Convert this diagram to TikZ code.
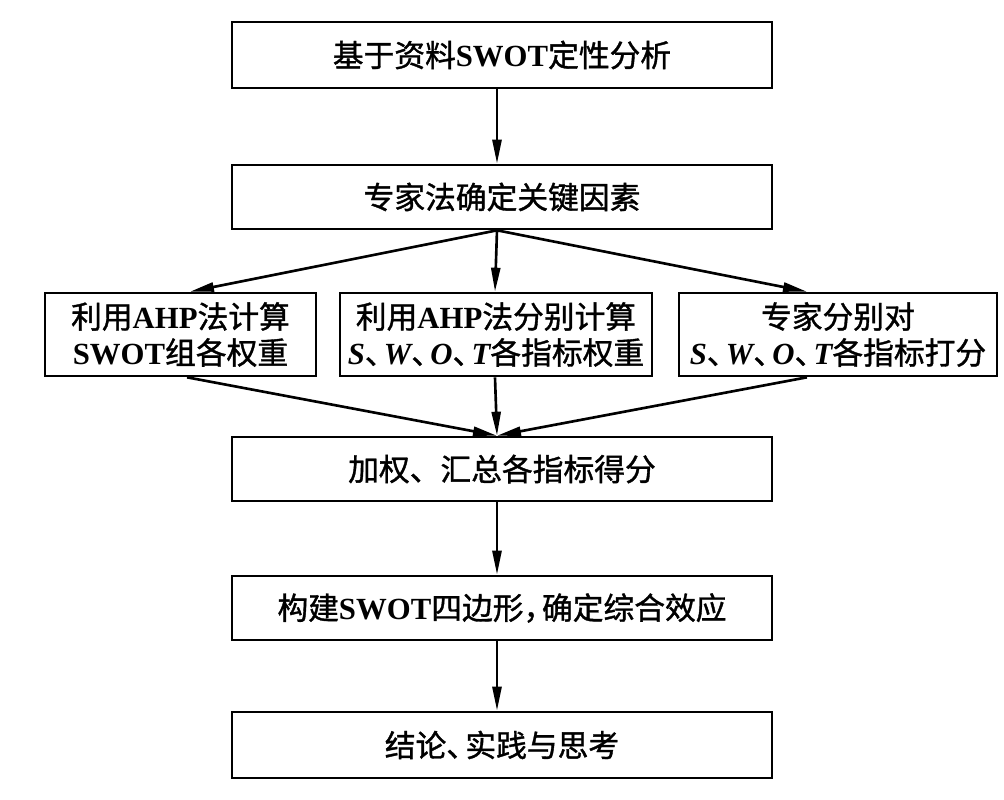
\documentclass[tikz,border=0pt]{standalone}
\usepackage{fontspec}
\setmainfont{Noto Sans CJK SC}[FakeBold=1.2]
\newfontfamily\latfont{Liberation Serif}
\newcommand{\en}[1]{{\latfont\bfseries #1}}
\newcommand{\ei}[1]{{\latfont\bfseries\itshape #1}}
\newcommand{\dun}{\makebox[0.62em][l]{、}}
\newcommand{\dou}{\makebox[0.6em][l]{，}}
\usetikzlibrary{arrows.meta}
\tikzset{
  box/.style={draw, line width=1.5pt, align=center, inner sep=0pt,
    font=\fontsize{17.5}{20.5}\selectfont},
  arr/.style={line width=1.5pt, -{Triangle[length=0.48cm,width=0.18cm]}}
}

\begin{document}
\begin{tikzpicture}
            \useasboundingbox (0,0) rectangle (20.08,-16);
            % main column
            \node[box, minimum width=10.8cm, minimum height=1.32cm] (qual) at (10.04,-1.1) {基于资料\en{SWOT}定性分析};
            \node[box, minimum width=10.8cm, minimum height=1.28cm] (key) at (10.04,-3.94) {专家法确定关键因素};
            % three branches
            \node[box, minimum width=5.42cm, minimum height=1.66cm] (grp) at (3.61,-6.69) {利用\en{AHP}法计算\\\en{SWOT}组各权重};
            \node[box, minimum width=6.24cm, minimum height=1.66cm] (ind) at (9.92,-6.69) {利用\en{AHP}法分别计算\\\ei{S}\dun\ei{W}\dun\ei{O}\dun\ei{T}各指标权重};
            \node[box, minimum width=6.36cm, minimum height=1.66cm] (score) at (16.76,-6.69) {专家分别对\\\ei{S}\dun\ei{W}\dun\ei{O}\dun\ei{T}各指标打分};
            \node[box, minimum width=10.8cm, minimum height=1.28cm] (sum) at (10.04,-9.38) {加权、汇总各指标得分};
            \node[box, minimum width=10.8cm, minimum height=1.28cm] (quad) at (10.04,-12.16) {构建\en{SWOT}四边形\dou 确定综合效应};
            \node[box, minimum width=10.8cm, minimum height=1.32cm] (end) at (10.04,-14.9) {结论\dun 实践与思考};
            % connectors
            \draw[arr] ([xshift=-0.1cm]qual.south) -- ([xshift=-0.1cm]key.north);
            \draw[arr] ([xshift=-0.1cm]key.south) -- ([xshift=0.19cm]grp.north);
            \draw[arr] ([xshift=-0.1cm]key.south) -- ([xshift=-0.02cm]ind.north);
            \draw[arr] ([xshift=-0.1cm]key.south) -- ([xshift=-0.62cm]score.north);
            \draw[arr] ([xshift=0.13cm]grp.south) -- ([xshift=-0.1cm]sum.north);
            \draw[arr] ([xshift=-0.02cm]ind.south) -- ([xshift=-0.1cm]sum.north);
            \draw[arr] ([xshift=-0.62cm]score.south) -- ([xshift=-0.1cm]sum.north);
            \draw[arr] ([xshift=-0.1cm]sum.south) -- ([xshift=-0.1cm]quad.north);
            \draw[arr] ([xshift=-0.1cm]quad.south) -- ([xshift=-0.1cm]end.north);
    \end{tikzpicture}
\end{document}
